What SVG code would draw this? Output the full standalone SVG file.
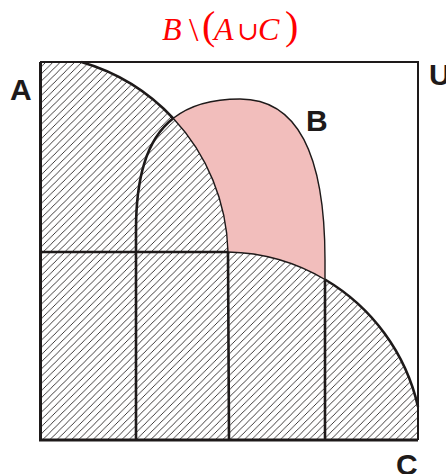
<svg xmlns="http://www.w3.org/2000/svg" width="446" height="474" viewBox="0 0 446 474">
<style>
.lbl{font-family:"Liberation Sans",Arial,sans-serif;font-weight:bold;font-size:30px;fill:#1e1a1a}
.m{font-family:"Liberation Serif","DejaVu Serif",serif;fill:#ff0000}
.thick{fill:none;stroke:#1e1a1a;stroke-width:2.6;stroke-linejoin:round}
.thin{fill:none;stroke:#1e1a1a;stroke-width:1.4}
.hatch{fill:url(#h)}
</style>
<defs>
<pattern id="h" width="7.2" height="7.2" patternUnits="userSpaceOnUse">
<rect width="7.2" height="7.2" fill="#fff"/>
<path d="M-1,1 L1,-1 M0,7.2 L7.2,0 M6.2,8.2 L8.2,6.2" stroke="#1e1a1a" stroke-width="0.85"/>
</pattern>
</defs>
<rect width="446" height="474" fill="#fff"/>
<g id="title">
<text class="m" x="162" y="40" font-size="32" font-style="italic">B</text>
<text class="m" x="189" y="41" font-size="34">\</text>
<text class="m" x="202" y="39" font-size="40">(</text>
<text class="m" x="214" y="40" font-size="32" font-style="italic">A</text>
<text class="m" x="248" y="40" font-size="26" text-anchor="middle">∪</text>
<text class="m" x="258" y="40" font-size="32" font-style="italic">C</text>
<text class="m" x="285" y="39" font-size="40">)</text>
</g>
<g id="B-fill">
<path d="M136,440 L136,230 C136,150 160,99 240,99 C295,99 325,150 325,260 L325,440 Z" fill="#f2bebc"/>
</g>
<g id="A-fill">
<path class="hatch" d="M40,62 L81.4,62 A203,203 0 0 1 228,252 L229,440 L40,440 Z"/>
</g>
<g id="C-fill">
<path class="hatch" d="M40,252 L228,252 A199,199 0 0 1 418,406.7 L418,440 L40,440 Z"/>
</g>
<g id="A">
<path class="thick" d="M81.4,62 A203,203 0 0 1 173.23,118.32"/>
<path class="thin" d="M173.23,118.32 A203,203 0 0 1 228,252"/>
<path class="thick" d="M228,252 L229,440"/>
</g>
<g id="C">
<path class="thick" d="M40,252 L228,252"/>
<path class="thin" d="M228,252 A199,199 0 0 1 325,279.5"/>
<path class="thick" d="M325,279.5 A199,199 0 0 1 418,406.7"/>
</g>
<g id="B">
<path class="thick" d="M136,440 L136,230 C136,179.2 145.68,140.09 173.23,118.32"/>
<path class="thin" d="M173.23,118.32 C189.06,105.8 210.8,99 240,99 C295,99 325,150 325,260 L325,279.5"/>
<path class="thick" d="M325,279.5 L325,440"/>
</g>
<g id="U">
<path d="M40,62 L418,62 L418,440" fill="none" stroke="#1e1a1a" stroke-width="2"/>
<path d="M40.5,62 L40.5,440 L418,440" fill="none" stroke="#1e1a1a" stroke-width="3"/>
</g>
<g id="labels">
<text class="lbl" x="10" y="100">A</text>
<text class="lbl" x="306" y="131">B</text>
<text class="lbl" x="429" y="85">U</text>
<text class="lbl" x="396" y="475">C</text>
</g>
</svg>
